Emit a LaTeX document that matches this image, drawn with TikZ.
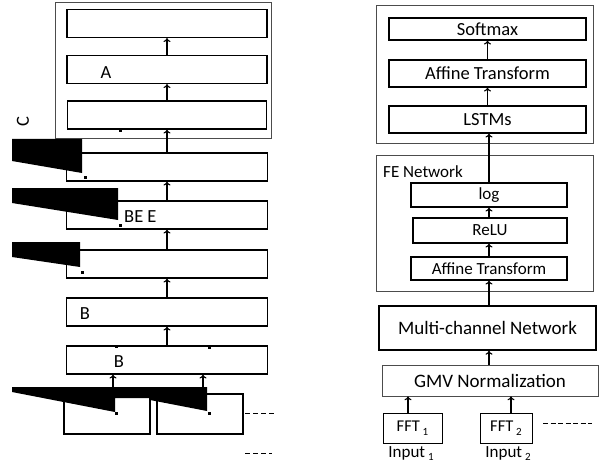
\documentclass[tikz,border=0pt]{standalone}
\usepackage{fontspec}
\setmainfont{Carlito}
\usetikzlibrary{arrows.meta,calc}

\tikzset{
  layer/.style={draw, line width=1.1pt, inner sep=0pt, minimum width=200pt, minimum height=28pt, font=\fontsize{18.5}{20}\selectfont},
  frame/.style={draw=black!70, line width=0.6pt, inner sep=0pt},
  up/.style={-{To[length=4pt,width=7pt]}, line width=1.1pt},
  wedge/.style={fill=black, draw=none},
  lbl/.style={font=\fontsize{18.5}{20}\selectfont, inner sep=0pt},
}
\newcommand{\sbs}[2][-0.55ex]{\,\raisebox{#1}{\fontsize{11}{12}\selectfont #2}}

\begin{document}
\begin{tikzpicture}[x=1pt,y=-1pt]
    \useasboundingbox (0,0) rectangle (601,465);

		% left panel
		\node[frame, minimum width=216pt, minimum height=136pt] (lout) at (163,70) {};
		\node[layer] (L1) at (167,23.5) {};
		\node[layer] (L2) at (167,69.5) {};
		\node[layer, minimum width=199pt] (L3) at (167,115) {};
		\node[layer, minimum width=201pt] (L4) at (167,167) {};
		\node[layer, minimum width=201pt] (L5) at (167,215) {};
		\node[layer, minimum width=201pt] (L6) at (167,264) {};
		\node[layer, minimum width=201pt] (L7) at (167,312) {};
		\node[layer, minimum width=201pt] (L8) at (167,360) {};
		\node[layer, minimum width=86pt, minimum height=40pt] (in1) at (107,414) {};
		\node[layer, minimum width=86pt, minimum height=40pt] (in2) at (200,414) {};

		\node[lbl] (tA) at (106,73) {A};
		\node[lbl, anchor=west] (tBEE) at (124,217) {BE E};
		\node[lbl] (tB1) at (85,314) {B};
		\node[lbl] (tB2) at (119,362) {B};
		\node[lbl, rotate=90] (tC) at (23,122) {C};

		\draw[up] (L2) -- (L1);
		\draw[up] (L3) -- (L2);
		\draw[up] (L4) -- (L3);
		\draw[up] (L5) -- (L4);
		\draw[up] (L6) -- (L5);
		\draw[up] (L7) -- (L6);
		\draw[up] (L8) -- (L7);
		\draw[up] ([xshift=6pt]in1.north) -- ([xshift=6pt]in1.north |- L8.south);
		\draw[up] ([xshift=3pt]in2.north) -- ([xshift=3pt]in2.north |- L8.south);

		% black wedges
		\fill[wedge] (12,139) -- (82,139) -- (82,173) -- (12,161) -- cycle;
		\fill[wedge] (12,188) -- (118,188) -- (118,220) -- (12,203) -- cycle;
		\fill[wedge] (12,242) -- (80,242) -- (80,267) -- (12,257) -- cycle;
		\fill[wedge] (12,387) -- (207,387) -- (207,411) -- (150,400) -- (150,398) -- (115,398) -- (115,412) -- (12,392) -- cycle;
		\foreach \p in {(85,177),(120,225),(82,272),(116,413),(209,413),(120,131),(116,346),(209,347)}
			\fill \p ++(-1.5,-1.5) rectangle ++(3,3);

		\draw[dashed, line width=0.9pt, dash pattern=on 5pt off 3pt] (245,413) -- (275,413);
		\draw[dashed, line width=0.9pt, dash pattern=on 5pt off 3pt] (245,453) -- (272,453);

		% right panel
		\node[frame, minimum width=217pt, minimum height=138pt] (rout) at (484.5,74) {};
		\node[layer, minimum width=197pt, minimum height=22pt] (soft) at (487.5,29) {Softmax};
		\node[layer, minimum width=197pt, minimum height=27pt] (aff) at (487.5,73.5) {Affine Transform};
		\node[layer, minimum width=197pt, minimum height=27pt] (lstm) at (487.5,119.5) {LSTMs};

		\node[frame, minimum width=217pt, minimum height=136pt] (fe) at (484.5,223) {};
		\node[font=\fontsize{17}{18}\selectfont, anchor=west, inner sep=0pt] (fel) at (383,172) {FE Network};
		\node[layer, minimum width=156pt, minimum height=24pt, font=\fontsize{17}{18}\selectfont] (log) at (489,195) {log};
		\node[layer, minimum width=154pt, minimum height=25pt, font=\fontsize{17}{18}\selectfont] (relu) at (490,230.5) {ReLU};
		\node[layer, minimum width=156pt, minimum height=23pt, font=\fontsize{17}{18}\selectfont] (aff2) at (489,268.5) {Affine Transform};

		\node[layer, line width=1.4pt, minimum width=217pt, minimum height=44pt, font=\fontsize{19}{20}\selectfont] (multi) at (487.5,328) {Multi-channel Network};
		\node[frame, minimum width=216pt, minimum height=31pt, font=\fontsize{19}{20}\selectfont] (gmv) at (490,380.5) {GMV Normalization};

		\node[frame, draw=black, line width=0.8pt, minimum width=59pt, minimum height=30pt, font=\fontsize{16.5}{18}\selectfont] (fft1) at (412.5,428) {FFT\sbs{1}};
		\node[frame, draw=black, line width=0.8pt, minimum width=52pt, minimum height=30pt, font=\fontsize{16.5}{18}\selectfont] (fft2) at (506,428) {FFT\sbs{2}};
		\node[font=\fontsize{17}{18}\selectfont, inner sep=0pt] (inp1) at (411,453.5) {Input\sbs[-0.35ex]{1}};
		\node[font=\fontsize{17}{18}\selectfont, inner sep=0pt] (inp2) at (508,453.5) {Input\sbs[-0.35ex]{2}};
		\draw[dashed, line width=0.9pt, dash pattern=on 5pt off 2.5pt] (543,423) -- (592,423);

		\draw[up] (aff) -- (soft);
		\draw[up] (lstm) -- (aff);
		\draw[up] (log) -- (lstm.south -| log);
		\draw[up] (relu.north -| log) -- (log);
		\draw[up] (aff2.north -| log) -- (relu.south -| log);
		\draw[up] (multi.north -| log) -- (aff2);
		\draw[up] (gmv.north -| log) -- (multi.south -| log);
		\draw[up] ([xshift=-4.5pt]fft1.north) -- ([xshift=-4.5pt]fft1.north |- gmv.south);
		\draw[up] ([xshift=5pt]fft2.north) -- ([xshift=5pt]fft2.north |- gmv.south);
\end{tikzpicture}
\end{document}
